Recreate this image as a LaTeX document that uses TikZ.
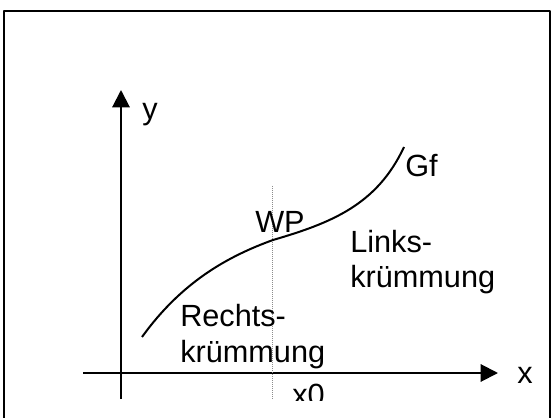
\documentclass[tikz,border=0pt]{standalone}
\usepackage{fontspec}
\setmainfont{Liberation Sans}
\usetikzlibrary{arrows.meta}
\usetikzlibrary{positioning}
\tikzset{
	>={Triangle[length=13pt,width=13pt]},
	axis/.style={black, line width=1.5pt, ->},
	frame/.style={black, line width=1.5pt},
	graph/.style={black, line width=1.5pt},
	guide/.style={black!45, line width=0.5pt, densely dotted},
	labeltext/.style={font=\fontsize{23}{26.3}\selectfont, inner sep=0pt, anchor=base west, align=left},
}

\begin{document}
\begin{tikzpicture}[x=0.75pt, y=0.75pt, line cap=butt, line join=round]
			
			\useasboundingbox (-121,-44) rectangle (431,373);
			
			% Frame (bottom edge lies outside)
			\draw[frame] (-117,-60) -- (-117,362) -- (428.5,362) -- (428.5,-60);
			\node[labeltext] (title) at (115.5,379) {g};
			
			% Axes
			\coordinate (O) at (0,0);
			\coordinate (xstart) at (-38,0);
			\coordinate (xend) at (377,0);
			\coordinate (ystart) at (0,-26);
			\coordinate (yend) at (0,283);
			\draw[axis] (xstart) -- (xend);
			\draw[axis] (ystart) -- (yend);
			\node[labeltext] (xlabel) at (396,-10) {x};
			\node[labeltext] (ylabel) at (21,253) {y};
			
			% Inflection point and guide line
			\coordinate (WP) at (152,133);
			\coordinate (guidetop) at (151,187);
			\coordinate (guidebot) at (151,-26);
			\draw[guide] (guidetop) -- (guidebot);
			
			% Graph of f
			\coordinate (Gstart) at (21,36);
			\coordinate (Gend) at (283,226);
			\draw[graph] (Gstart) .. controls (60,90) and (105,116) .. (WP)
			             .. controls (210,150) and (256,168) .. (Gend);
			
			% Labels (base = last line)
			\node[labeltext] (wplabel) at (134,140) {WP};
			\node[labeltext] (gflabel) at (284,196) {Gf};
			\node[labeltext] (links) at (229,85) {Links-\\krümmung};
			\node[labeltext] (rechts) at (59,11) {Rechts-\\krümmung};
			
			% x0, cut at the lower edge
			\begin{scope}
				\clip (140,-27.5) rectangle (220,0);
				\node[labeltext] (x0label) at (171,-32) {x0};
			\end{scope}
			
		\end{tikzpicture}
\end{document}
